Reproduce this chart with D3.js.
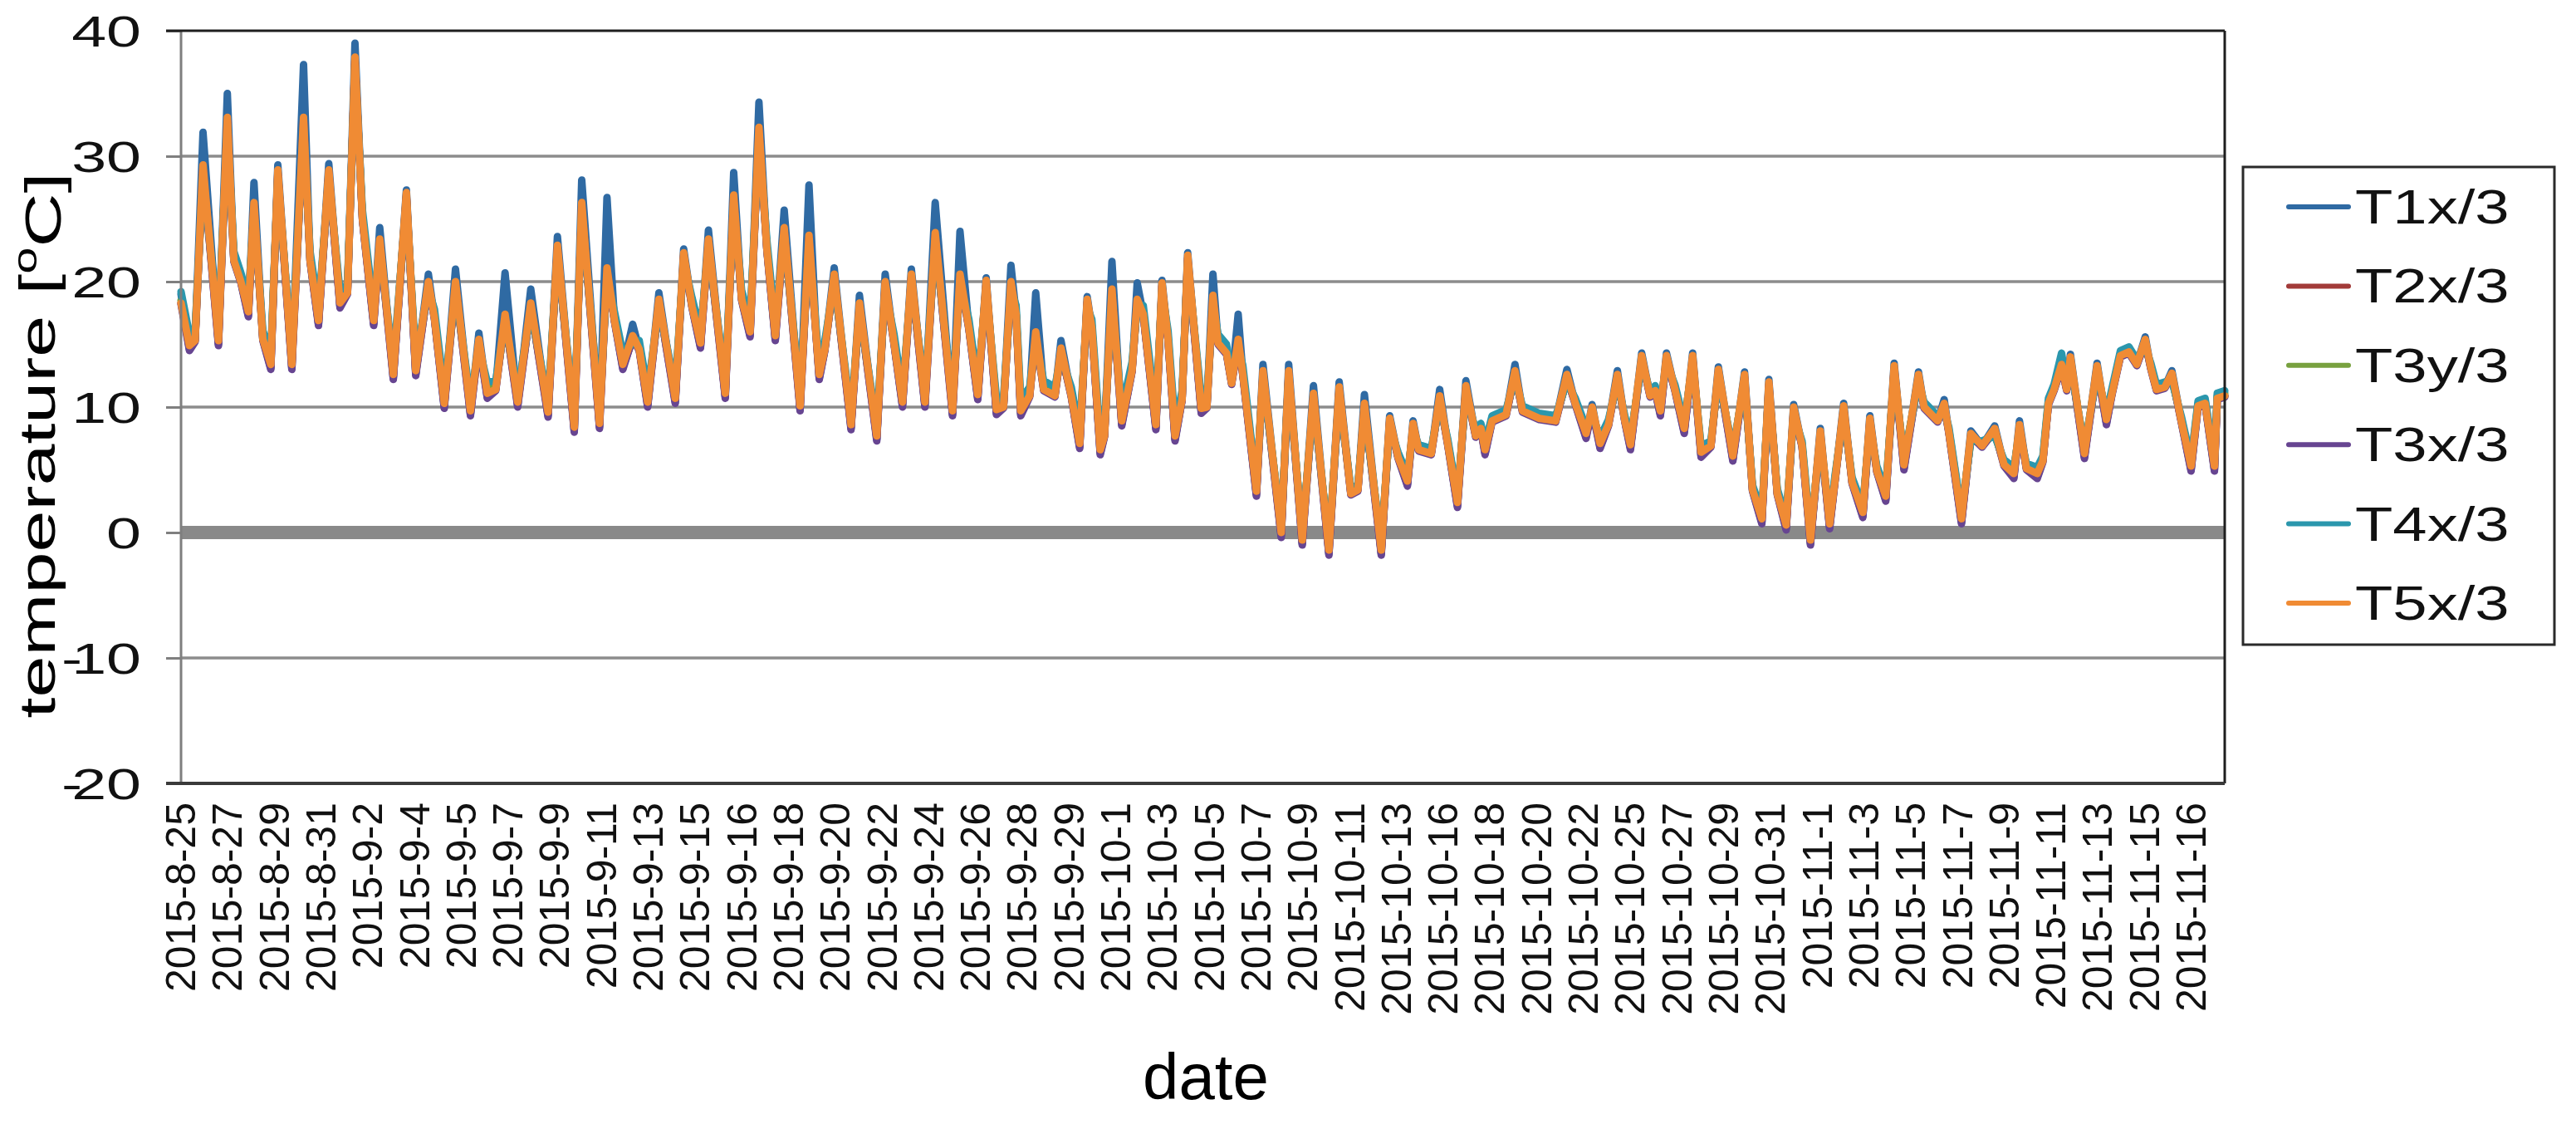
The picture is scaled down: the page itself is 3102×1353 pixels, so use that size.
<!DOCTYPE html>
<html><head><meta charset="utf-8">
<script src="https://cdn.jsdelivr.net/npm/d3@7"></script>
<style>html,body{margin:0;padding:0;background:#fff;}svg{display:block;font-family:"Liberation Sans",Arial,sans-serif;}</style>
</head><body>
<svg id="chart" width="3102" height="1353"></svg>
<script>
// ---- categories (x tick labels, one per label interval) ----
const dateLabels = ["2015-8-25","2015-8-27","2015-8-29","2015-8-31","2015-9-2","2015-9-4","2015-9-5","2015-9-7","2015-9-9","2015-9-11","2015-9-13","2015-9-15","2015-9-16","2015-9-18","2015-9-20","2015-9-22","2015-9-24","2015-9-26","2015-9-28","2015-9-29","2015-10-1","2015-10-3","2015-10-5","2015-10-7","2015-10-9","2015-10-11","2015-10-13","2015-10-16","2015-10-18","2015-10-20","2015-10-22","2015-10-25","2015-10-27","2015-10-29","2015-10-31","2015-11-1","2015-11-3","2015-11-5","2015-11-7","2015-11-9","2015-11-11","2015-11-13","2015-11-15","2015-11-16"];
const yTicks = [-20,-10,0,10,20,30,40];
const seriesNames = ["T1x/3","T2x/3","T3y/3","T3x/3","T4x/3","T5x/3"];
const seriesColors = ["#2f6aa3","#a23b39","#78a13f","#674591","#2b97ad","#f08b34"];

// ---- sample positions (in label-interval units along the date axis) ----
const pos = [0.00,0.18,0.30,0.47,0.80,0.99,1.13,1.28,1.44,1.56,
1.75,1.92,2.07,2.37,2.62,2.76,2.94,3.16,3.40,3.56,
3.72,3.88,4.12,4.25,4.54,4.82,5.02,5.29,5.42,5.63,
5.87,6.19,6.37,6.55,6.73,6.93,7.20,7.48,7.85,8.05,
8.41,8.57,8.95,9.11,9.27,9.45,9.66,9.80,9.98,10.22,
10.57,10.75,10.93,11.11,11.28,11.64,11.82,11.99,12.17,12.36,
12.53,12.71,12.90,13.24,13.43,13.59,13.65,13.77,13.97,14.33,
14.51,14.88,15.06,15.25,15.43,15.62,15.91,16.13,16.50,16.66,
16.85,17.04,17.22,17.44,17.59,17.75,17.86,17.96,18.15,18.28,
18.45,18.69,18.82,19.04,19.22,19.38,19.48,19.66,19.75,19.91,
20.12,20.34,20.45,20.58,20.85,20.98,21.11,21.26,21.41,21.53,
21.82,21.94,22.07,22.18,22.36,22.47,22.61,22.71,23.00,23.14,
23.53,23.69,23.98,24.22,24.55,24.77,25.02,25.17,25.31,25.67,
25.85,26.03,26.23,26.35,26.47,26.74,26.92,27.09,27.30,27.48,
27.69,27.80,27.89,28.04,28.34,28.53,28.69,29.05,29.40,29.64,
29.82,30.05,30.18,30.35,30.53,30.72,30.88,31.00,31.24,31.42,
31.53,31.64,31.77,31.95,32.15,32.33,32.51,32.72,32.88,33.19,
33.44,33.61,33.81,33.96,34.14,34.33,34.49,34.67,34.85,35.06,
35.26,35.38,35.56,35.74,35.97,36.12,36.27,36.46,36.64,36.85,
37.16,37.28,37.57,37.71,37.81,38.08,38.28,38.52,38.79,38.99,
39.20,39.32,39.47,39.70,39.82,39.94,40.06,40.22,40.33,40.41,
40.71,40.98,41.18,41.30,41.48,41.66,41.83,42.01,42.13,42.25,
42.43,42.58,42.78,42.99,43.14,43.29,43.49,43.55,43.71];

// ---- series values (°C) ----
const T1 = [19.0,14.6,15.3,31.9,15.0,35.0,21.7,20.0,17.3,27.9,
15.4,13.1,29.3,13.1,37.3,21.7,16.6,29.4,18.0,19.1,
39.0,25.0,16.6,24.3,12.3,27.3,12.6,20.6,17.1,10.0,
21.0,9.4,15.9,10.8,11.4,20.7,10.1,19.4,9.3,23.6,
8.1,28.1,8.4,26.7,16.9,13.1,16.6,14.6,10.1,19.1,
10.4,22.6,18.0,14.8,24.1,10.8,28.7,18.6,15.7,34.3,
22.6,15.4,25.7,9.8,27.7,15.4,12.3,14.6,21.1,8.3,
18.9,7.4,20.6,15.1,10.1,21.0,10.1,26.3,9.4,24.0,
16.3,10.7,20.3,9.5,10.0,21.3,17.4,9.4,10.9,19.1,
11.4,10.9,15.3,10.9,6.8,18.8,16.3,6.3,7.7,21.6,
8.6,12.9,19.9,17.4,8.3,20.1,15.4,7.4,10.6,22.3,
9.6,10.0,20.6,15.1,14.3,11.9,17.4,12.6,3.0,13.4,
-0.3,13.4,-0.9,11.7,-1.7,12.0,3.1,3.4,11.0,-1.7,
9.3,6.0,3.8,8.9,6.6,6.3,11.4,7.1,2.1,12.1,
7.7,8.3,6.3,8.9,9.4,13.4,9.7,9.1,8.9,13.0,
10.3,7.6,10.2,6.8,8.6,12.9,8.9,6.7,14.3,10.9,
11.3,9.4,14.3,11.4,8.0,14.3,6.1,6.9,13.2,5.8,
12.8,3.4,0.8,12.2,3.1,0.3,10.2,6.9,-0.9,8.3,
0.4,4.3,10.3,4.0,1.3,9.3,4.9,2.6,13.5,5.1,
12.8,10.0,8.9,10.6,8.0,0.8,8.1,6.9,8.5,5.4,
4.4,8.9,5.1,4.4,5.7,10.3,11.4,13.9,11.4,14.2,
6.0,13.5,8.7,11.1,14.1,14.4,13.4,15.6,13.1,11.4,
11.6,12.9,8.9,5.0,10.1,10.3,5.0,10.7,10.9];

const T2 = [18.3,14.7,15.3,29.0,15.1,32.8,21.7,20.0,17.4,26.0,
15.4,13.2,28.6,13.2,32.8,21.7,16.7,28.6,18.1,19.1,
37.6,25.0,16.7,23.1,12.4,26.8,12.7,19.7,17.1,10.1,
19.7,9.5,15.1,10.9,11.4,17.1,10.2,18.0,9.4,22.6,
8.2,26.0,8.5,20.8,16.9,13.2,15.4,14.6,10.2,18.3,
10.5,22.0,18.0,14.9,23.1,10.9,26.6,18.6,15.8,32.0,
22.6,15.5,24.0,9.9,23.4,15.4,12.4,14.6,20.3,8.4,
18.0,7.5,19.7,15.1,10.2,20.3,10.2,23.6,9.5,20.3,
16.3,10.8,19.8,9.6,10.0,19.7,17.4,9.5,10.9,15.7,
11.4,10.9,14.4,10.9,6.9,18.3,16.3,6.4,7.7,19.1,
8.7,12.9,18.3,17.4,8.4,19.6,15.4,7.5,10.6,21.8,
9.7,10.0,18.6,15.1,14.3,11.9,15.1,12.6,3.1,12.6,
-0.2,12.6,-0.8,10.8,-1.6,11.3,3.1,3.4,10.0,-1.6,
8.8,6.0,3.9,8.4,6.6,6.3,10.6,7.1,2.2,11.4,
7.7,8.3,6.4,8.9,9.4,12.6,9.7,9.1,8.9,12.3,
10.3,7.7,9.7,6.9,8.6,12.3,8.9,6.8,13.8,10.9,
11.3,9.5,13.8,11.4,8.1,13.8,6.2,6.9,12.7,5.9,
12.3,3.4,0.9,11.7,3.1,0.4,9.7,6.9,-0.8,7.8,
0.5,4.3,9.8,4.0,1.4,8.8,4.9,2.7,13.0,5.2,
12.3,10.0,8.9,10.0,8.0,0.9,7.6,6.9,8.0,5.4,
4.5,8.3,5.1,4.5,5.7,10.3,11.4,13.1,11.4,13.7,
6.1,13.0,8.8,11.1,14.1,14.4,13.4,15.1,13.1,11.4,
11.6,12.4,8.9,5.1,10.1,10.3,5.1,10.7,10.9];

const T3y = [18.5,15.3,15.5,28.8,15.7,32.6,21.9,20.2,18.0,25.8,
15.6,13.8,28.4,13.8,32.6,21.9,17.3,28.4,18.7,19.3,
37.4,25.2,17.3,22.9,13.0,26.6,13.3,19.5,17.3,10.7,
19.5,10.1,14.9,11.5,11.6,16.9,10.8,17.8,10.0,22.4,
8.8,25.8,9.1,20.6,17.1,13.8,15.2,14.8,10.8,18.1,
11.1,21.8,18.2,15.5,22.9,11.5,26.4,18.8,16.4,31.8,
22.8,16.1,23.8,10.5,23.2,15.6,13.0,14.8,20.1,9.0,
17.8,8.1,19.5,15.3,10.8,20.1,10.8,23.4,10.1,20.1,
16.5,11.4,19.6,10.2,10.2,19.5,17.6,10.1,11.1,15.5,
11.6,11.1,14.2,11.1,7.5,18.1,16.5,7.0,7.9,18.9,
9.3,13.1,18.1,17.6,9.0,19.4,15.6,8.1,10.8,21.6,
10.3,10.2,18.4,15.3,14.5,12.1,14.9,12.8,3.7,12.4,
0.4,12.4,-0.2,10.6,-1.0,11.1,3.3,3.6,9.8,-1.0,
8.6,6.2,4.5,8.2,6.8,6.5,10.4,7.3,2.8,11.2,
7.9,8.5,7.0,9.1,9.6,12.4,9.9,9.3,9.1,12.1,
10.5,8.3,9.5,7.5,8.8,12.1,9.1,7.4,13.6,11.1,
11.5,10.1,13.6,11.6,8.7,13.6,6.8,7.1,12.5,6.5,
12.1,3.6,1.5,11.5,3.3,1.0,9.5,7.1,-0.2,7.6,
1.1,4.5,9.6,4.2,2.0,8.6,5.1,3.3,12.8,5.8,
12.1,10.2,9.1,9.8,8.2,1.5,7.4,7.1,7.8,5.6,
5.1,8.1,5.3,5.1,5.9,10.5,11.6,12.9,11.6,13.5,
6.7,12.8,9.4,11.3,14.3,14.6,13.6,14.9,13.3,11.6,
11.8,12.2,9.1,5.7,10.3,10.5,5.7,10.9,11.1];

const T3x = [18.2,14.5,15.2,29.1,14.9,32.9,21.6,19.9,17.2,26.1,
15.3,13.0,28.7,13.0,32.9,21.6,16.5,28.7,17.9,19.0,
37.7,24.9,16.5,23.2,12.2,26.9,12.5,19.8,17.0,9.9,
19.8,9.3,15.2,10.7,11.3,17.2,10.0,18.1,9.2,22.7,
8.0,26.1,8.3,20.9,16.8,13.0,15.5,14.5,10.0,18.4,
10.3,22.1,17.9,14.7,23.2,10.7,26.7,18.5,15.6,32.1,
22.5,15.3,24.1,9.7,23.5,15.3,12.2,14.5,20.4,8.2,
18.1,7.3,19.8,15.0,10.0,20.4,10.0,23.7,9.3,20.4,
16.2,10.6,19.9,9.4,9.9,19.8,17.3,9.3,10.8,15.8,
11.3,10.8,14.5,10.8,6.7,18.4,16.2,6.2,7.6,19.2,
8.5,12.8,18.4,17.3,8.2,19.7,15.3,7.3,10.5,21.9,
9.5,9.9,18.7,15.0,14.2,11.8,15.2,12.5,2.9,12.7,
-0.4,12.7,-1.0,10.9,-1.8,11.4,3.0,3.3,10.1,-1.8,
8.9,5.9,3.7,8.5,6.5,6.2,10.7,7.0,2.0,11.5,
7.6,8.2,6.2,8.8,9.3,12.7,9.6,9.0,8.8,12.4,
10.2,7.5,9.8,6.7,8.5,12.4,8.8,6.6,13.9,10.8,
11.2,9.3,13.9,11.3,7.9,13.9,6.0,6.8,12.8,5.7,
12.4,3.3,0.7,11.8,3.0,0.2,9.8,6.8,-1.0,7.9,
0.3,4.2,9.9,3.9,1.2,8.9,4.8,2.5,13.1,5.0,
12.4,9.9,8.8,10.1,7.9,0.7,7.7,6.8,8.1,5.3,
4.3,8.4,5.0,4.3,5.6,10.2,11.3,13.2,11.3,13.8,
5.9,13.1,8.6,11.0,14.0,14.3,13.3,15.2,13.0,11.3,
11.5,12.5,8.8,4.9,10.0,10.2,4.9,10.6,10.8];

const T4 = [19.2,15.8,16.0,28.7,16.2,32.5,22.4,20.7,18.5,25.7,
16.1,14.3,28.3,14.3,32.5,22.4,17.8,28.3,19.2,19.8,
37.3,25.7,17.8,22.8,13.5,26.5,13.8,19.4,17.8,11.2,
19.4,10.6,14.8,12.0,12.1,16.8,11.3,17.7,10.5,22.3,
9.3,25.7,9.6,20.5,17.6,14.3,15.1,15.3,11.3,18.0,
11.6,21.7,18.7,16.0,22.8,12.0,26.3,19.3,16.9,31.7,
23.3,16.6,23.7,11.0,23.1,16.1,13.5,15.3,20.0,9.5,
17.7,8.6,19.4,15.8,11.3,20.0,11.3,23.3,10.6,20.0,
17.0,11.9,19.5,10.7,10.7,19.4,18.1,10.6,11.6,15.4,
12.1,11.6,14.1,11.6,8.0,18.0,17.0,7.5,8.4,18.8,
9.8,13.6,18.0,18.1,9.5,19.3,16.1,8.6,11.3,21.5,
10.8,10.7,18.3,15.8,15.0,12.6,14.8,13.3,3.8,12.3,
0.5,12.3,-0.1,10.5,-0.9,11.0,3.5,3.8,9.7,-0.9,
8.5,6.4,4.6,8.1,7.0,6.7,10.3,7.5,2.9,11.1,
8.1,8.7,7.1,9.3,9.8,12.3,10.1,9.5,9.3,12.0,
10.7,8.4,9.4,7.6,9.0,12.0,9.3,7.5,13.5,11.3,
11.7,10.2,13.5,11.8,8.8,13.5,6.9,7.3,12.4,6.6,
12.0,3.8,1.6,11.4,3.5,1.1,9.4,7.3,-0.1,7.5,
1.2,4.7,9.5,4.4,2.1,8.5,5.3,3.4,12.7,5.9,
12.0,10.4,9.3,9.7,8.4,1.6,7.3,7.3,7.7,5.8,
5.2,8.0,5.5,5.2,6.1,10.7,11.8,14.3,11.8,13.4,
6.8,12.7,9.5,11.5,14.5,14.8,13.8,14.8,13.5,11.8,
12.0,12.1,9.3,5.8,10.5,10.7,5.8,11.1,11.3];

const T5 = [18.3,14.9,15.3,29.3,15.3,33.1,21.7,20.0,17.6,26.3,
15.4,13.4,28.9,13.4,33.1,21.7,16.9,28.9,18.3,19.1,
37.9,25.0,16.9,23.4,12.6,27.1,12.9,20.0,17.1,10.3,
20.0,9.7,15.4,11.1,11.4,17.4,10.4,18.3,9.6,22.9,
8.4,26.3,8.7,21.1,16.9,13.4,15.7,14.6,10.4,18.6,
10.7,22.3,18.0,15.1,23.4,11.1,26.9,18.6,16.0,32.3,
22.6,15.7,24.3,10.1,23.7,15.4,12.6,14.6,20.6,8.6,
18.3,7.7,20.0,15.1,10.4,20.6,10.4,23.9,9.7,20.6,
16.3,11.0,20.1,9.8,10.0,20.0,17.4,9.7,10.9,16.0,
11.4,10.9,14.7,10.9,7.1,18.6,16.3,6.6,7.7,19.4,
8.9,12.9,18.6,17.4,8.6,19.9,15.4,7.7,10.6,22.1,
9.9,10.0,18.9,15.1,14.3,11.9,15.4,12.6,3.3,12.9,
0.0,12.9,-0.6,11.1,-1.4,11.6,3.1,3.4,10.3,-1.4,
9.1,6.0,4.1,8.7,6.6,6.3,10.9,7.1,2.4,11.7,
7.7,8.3,6.6,8.9,9.4,12.9,9.7,9.1,8.9,12.6,
10.3,7.9,10.0,7.1,8.6,12.6,8.9,7.0,14.1,10.9,
11.3,9.7,14.1,11.4,8.3,14.1,6.4,6.9,13.0,6.1,
12.6,3.4,1.1,12.0,3.1,0.6,10.0,6.9,-0.6,8.1,
0.7,4.3,10.1,4.0,1.6,9.1,4.9,2.9,13.3,5.4,
12.6,10.0,8.9,10.3,8.0,1.1,7.9,6.9,8.3,5.4,
4.7,8.6,5.1,4.7,5.7,10.3,11.4,13.4,11.4,14.0,
6.3,13.3,9.0,11.1,14.1,14.4,13.4,15.4,13.1,11.4,
11.6,12.7,8.9,5.3,10.1,10.3,5.3,10.7,10.9];

const seriesValues = [T1,T2,T3y,T3x,T4,T5];

// ---- layout ----
const svg = d3.select("#chart");
const plot = {left:218, right:2679, top:37, bottom:943};
const x = d3.scaleLinear().domain([0, pos[pos.length-1]]).range([plot.left, plot.right]);
const y = d3.scaleLinear().domain([-20, 40]).range([plot.bottom, plot.top]);
const FONT = '"Liberation Sans", Arial, sans-serif';

function widen(sel, k){
  sel.each(function(){
    const t = d3.select(this);
    const base = t.attr("transform") || "";
    t.attr("transform", base + " scale(" + k + ",1)");
  });
}

// horizontal gridlines
svg.append("g").selectAll("line").data(yTicks.filter(v => v !== 0 && v !== 40 && v !== -20)).join("line")
  .attr("x1", plot.left).attr("x2", plot.right)
  .attr("y1", d => y(d)).attr("y2", d => y(d))
  .attr("stroke", "#8c8c8c").attr("stroke-width", 3.5);

// horizontal axis line at 0 (thick grey band)
svg.append("line").attr("x1", plot.left).attr("x2", plot.right)
  .attr("y1", y(0)).attr("y2", y(0)).attr("stroke", "#898989").attr("stroke-width", 16);

// y axis ticks + labels
const yAxis = d3.axisLeft(y).tickValues(yTicks).tickSize(18).tickPadding(0).tickFormat(() => "");
const gy = svg.append("g").attr("transform", `translate(${plot.left},0)`).call(yAxis);
gy.select(".domain").remove();
gy.selectAll(".tick line").attr("stroke", "#7f7f7f").attr("stroke-width", 3);
gy.selectAll(".tick text").each(function(d){
  const t = d3.select(this)
    .attr("x", null).attr("dy", null)
    .attr("dominant-baseline", "central")
    .attr("transform", "translate(-48,0)")
    .style("font-family", FONT).style("font-size", "52px").attr("fill", "#111")
    .attr("text-anchor", "end").text(null);
  if (d < 0) t.append("tspan").style("letter-spacing", "-9px").text("-");
  t.append("tspan").text(String(Math.abs(d)));
});
widen(gy.selectAll(".tick text"), 1.45);

// series lines
const line = d3.line().x((d,i) => x(pos[i])).y(d => y(d)).curve(d3.curveLinear);
svg.append("g").selectAll("path").data(seriesValues).join("path")
  .attr("d", d => line(d))
  .attr("fill", "none")
  .attr("stroke", (d,i) => seriesColors[i])
  .attr("stroke-width", 9)
  .attr("stroke-linejoin", "round")
  .attr("stroke-linecap", "round");

// plot frame
svg.append("line").attr("x1", plot.left).attr("x2", plot.left).attr("y1", plot.top).attr("y2", plot.bottom)
  .attr("stroke", "#7f7f7f").attr("stroke-width", 3);
svg.append("line").attr("x1", plot.left - 18).attr("x2", plot.right).attr("y1", plot.top).attr("y2", plot.top)
  .attr("stroke", "#1e1e1e").attr("stroke-width", 3);
svg.append("line").attr("x1", plot.right).attr("x2", plot.right).attr("y1", plot.top).attr("y2", plot.bottom)
  .attr("stroke", "#1e1e1e").attr("stroke-width", 3);
svg.append("line").attr("x1", plot.left - 18).attr("x2", plot.right).attr("y1", plot.bottom).attr("y2", plot.bottom)
  .attr("stroke", "#3a3a3a").attr("stroke-width", 4);

// x tick labels (rotated)
svg.append("g").selectAll("text").data(dateLabels).join("text")
  .attr("transform", (d,i) => `translate(${x(i)},966) rotate(-90)`)
  .attr("text-anchor", "end").attr("dominant-baseline", "central")
  .style("font-family", FONT).style("font-size", "50px").attr("fill", "#111")
  .text(d => d);

// axis titles
svg.append("text").attr("x", 1452).attr("y", 1323).attr("text-anchor", "middle")
  .style("font-family", FONT).style("font-size", "78px").attr("fill", "#000").text("date");

const yt = svg.append("text")
  .attr("transform", "translate(44,536) rotate(-90)")
  .attr("text-anchor", "middle").attr("dominant-baseline", "central")
  .style("font-family", FONT).style("font-size", "62px").attr("fill", "#000");
yt.append("tspan").text("temperature [");
yt.append("tspan").attr("dy", "-0.35em").style("font-size", "40px").text("o");
yt.append("tspan").attr("dy", "0.35em").text("C]");
widen(yt, 1.45);

// legend
const lg = svg.append("g");
lg.append("rect").attr("x", 2701).attr("y", 201).attr("width", 375).attr("height", 575)
  .attr("fill", "#fff").attr("stroke", "#2a2a2a").attr("stroke-width", 3);
const items = lg.selectAll("g.item").data(seriesNames).join("g").attr("class", "item")
  .attr("transform", (d,i) => `translate(0,${249 + i*95.4})`);
items.append("line").attr("x1", 2756).attr("x2", 2828).attr("y1", 0).attr("y2", 0)
  .attr("stroke", (d,i) => seriesColors[i]).attr("stroke-width", 6).attr("stroke-linecap", "round");
items.append("text").attr("x", 0).attr("y", 0).attr("dominant-baseline", "central")
  .attr("transform", "translate(2836,0)")
  .style("font-family", FONT).style("font-size", "58px").attr("fill", "#111").text(d => d);
widen(items.selectAll("text"), 1.28);
</script>
</body></html>
